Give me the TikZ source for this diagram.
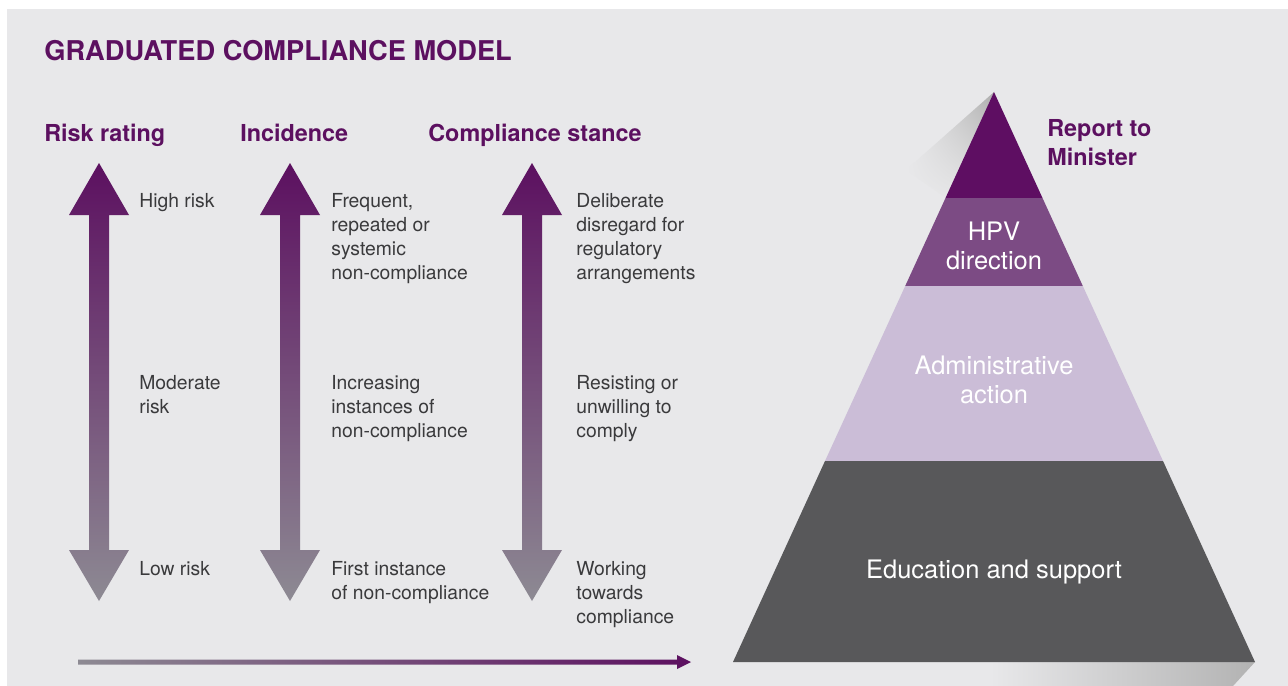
\documentclass[tikz,border=0pt]{standalone}
\usepackage{fontspec}
\setmainfont{TeX Gyre Heros}
\usetikzlibrary{shadings}
\definecolor{bgcol}{HTML}{E8E8EA}
\definecolor{plum}{HTML}{5C1060}
\definecolor{plumlight}{HTML}{9A78A5}
\definecolor{plumgray}{HTML}{8D8A93}
\definecolor{txtgray}{HTML}{3A3A3C}
\definecolor{tierone}{HTML}{5E0E62}
\definecolor{tiertwo}{HTML}{7C4B84}
\definecolor{tierthree}{HTML}{CBBDD7}
\definecolor{tierfour}{HTML}{58585A}
\begin{document}
\begin{tikzpicture}[x=0.02cm,y=-0.02cm,
	heading/.style={anchor=base west,inner sep=0,text=plum,font=\bfseries\fontsize{13.3}{16.4}\selectfont},
	desc/.style={anchor=north west,inner sep=0,align=left,text=txtgray,font=\fontsize{11}{13.6}\selectfont},
	tier/.style={inner sep=0,align=center,text=white,font=\fontsize{14.5}{16.6}\selectfont}]
	\useasboundingbox (0,0) rectangle (1288,686);
	
	% draw background
	\fill[white] (0,0) rectangle (1288,686);
	\fill[bgcol] (7,9) rectangle (1288,686);
	
	% draw title and headings
	\node[heading,font=\bfseries\fontsize{15.5}{18}\selectfont] (title) at (44,61) {GRADUATED COMPLIANCE MODEL};
	\node[heading] (h-risk) at (44,141) {Risk rating};
	\node[heading] (h-inc) at (240,141) {Incidence};
	\node[heading] (h-stance) at (428,141) {Compliance stance};
	
	% draw double arrows
	\foreach \x/\n in {99/risk,290/inc,532/stance}
	{
		\shade[top color=plum,middle color=plumlight,bottom color=plumgray]
			(\x,163) -- (\x+30,215) -- (\x+10,215) -- (\x+10,550) -- (\x+30,550) -- (\x,601)
			-- (\x-30,550) -- (\x-10,550) -- (\x-10,215) -- (\x-30,215) -- cycle;
		\coordinate (arrow-\n) at (\x,163);
	}
	
	% draw risk rating labels
	\node[desc] (risk-high) at (139,193) {High risk};
	\node[desc] (risk-mod) at (139,375) {Moderate\\risk};
	\node[desc] (risk-low) at (139,561) {Low risk};
	
	% draw incidence labels
	\node[desc] (inc-high) at (331,193) {Frequent,\\repeated or\\systemic\\non-compliance};
	\node[desc] (inc-mod) at (331,375) {Increasing\\instances of\\non-compliance};
	\node[desc] (inc-low) at (331,561) {First instance\\of non-compliance};
	
	% draw compliance stance labels
	\node[desc] (stance-high) at (576,193) {Deliberate\\disregard for\\regulatory\\arrangements};
	\node[desc] (stance-mod) at (576,375) {Resisting or\\unwilling to\\comply};
	\node[desc] (stance-low) at (576,561) {Working\\towards\\compliance};
	
	% draw bottom arrow
	\shade[left color=plumgray,middle color=plumlight,right color=plum]
		(78,659.5) -- (677,659.5) -- (677,655) -- (691,662) -- (677,669) -- (677,664.5) -- (78,664.5) -- cycle;
	
	% draw shadows of the pyramid
	\shade[upper right=black!32,upper left=bgcol,lower left=bgcol,lower right=black!10] (994,92) -- (906,170) -- (946,198) -- cycle;
	\shade[left color=bgcol,right color=black!30] (1255,662) -- (990,662) -- (990,686) -- (1233,686) -- cycle;
	
	% draw pyramid tiers
	\fill[tierone] (994,92) -- (1042.5,198) -- (945.5,198) -- cycle;
	\fill[tiertwo] (945.5,198) -- (1042.5,198) -- (1082.8,286) -- (905.2,286) -- cycle;
	\fill[tierthree] (905.2,286) -- (1082.8,286) -- (1163,461) -- (825,461) -- cycle;
	\fill[tierfour] (825,461) -- (1163,461) -- (1255,662) -- (733,662) -- cycle;
	
	% draw tier labels
	\node[heading,anchor=north west,align=left] (report) at (1047,119) {Report to\\Minister};
	\node[tier] (hpv) at (994,246) {HPV\\direction};
	\node[tier] (admin) at (994,380) {Administrative\\action};
	\node[tier] (edu) at (994,572) {Education and support};
\end{tikzpicture}
\end{document}
